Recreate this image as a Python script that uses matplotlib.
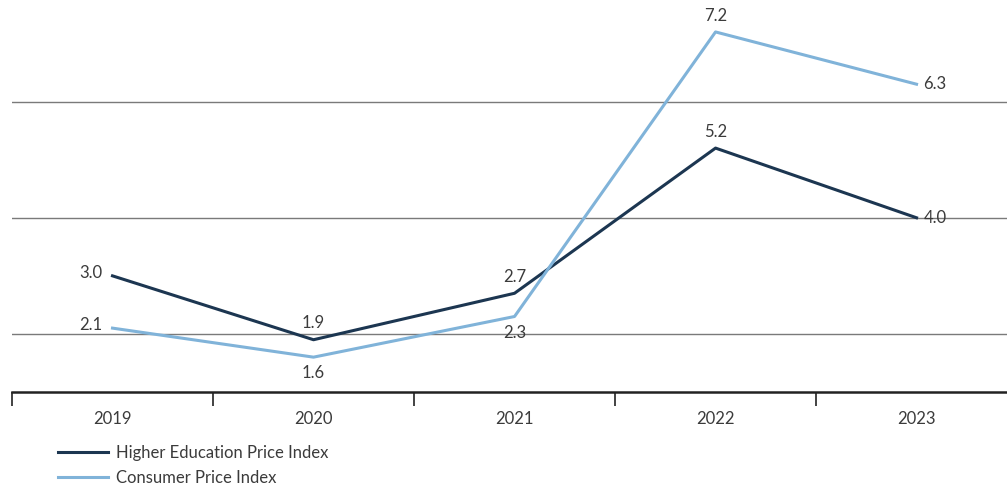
import numpy as np
import matplotlib.pyplot as plt

years = ["2019", "2020", "2021", "2022", "2023"]
hepi = [3.0, 1.9, 2.7, 5.2, 4.0]
cpi = [2.1, 1.6, 2.3, 7.2, 6.3]

# where each value label sits relative to its point
hepi_pos = ["left", "above", "above", "above", "right"]
cpi_pos = ["left", "below", "below", "above", "right"]

DARK = "#1c3651"
LIGHT = "#80b3d9"
TEXT = "#3b3b3b"

plt.rcParams['font.family'] = ['Lato', 'DejaVu Sans']

fig = plt.figure(figsize=(10.07, 4.87), dpi=100)
ax = fig.add_axes([12 / 1007, 95 / 487, 995 / 1007, 392 / 487])

x = np.arange(len(years))
ax.plot(x, hepi, color=DARK, lw=2.2, label="Higher Education Price Index", zorder=3)
ax.plot(x, cpi, color=LIGHT, lw=2.2, label="Consumer Price Index", zorder=3)

offsets = {
    "left": dict(xytext=(-7, 2), ha="right", va="center"),
    "right": dict(xytext=(5, 0), ha="left", va="center"),
    "above": dict(xytext=(0, 6), ha="center", va="bottom"),
    "below": dict(xytext=(0, -6), ha="center", va="top"),
}
for vals, pos in [(hepi, hepi_pos), (cpi, cpi_pos)]:
    for xi, v, p in zip(x, vals, pos):
        o = offsets[p]
        ax.annotate(f"{v:.1f}", (xi, v), xytext=o["xytext"], textcoords="offset points",
                    ha=o["ha"], va=o["va"], fontsize=12, color=TEXT, zorder=4)

ax.set_xlim(-0.5, 4.45)
ax.set_ylim(1.0, 7.75)
ax.set_yticks([2, 4, 6])
ax.yaxis.grid(True, color="#7a7a7a", lw=1.0)
ax.set_axisbelow(True)
ax.tick_params(axis="y", left=False, labelleft=False)

ax.set_xticks(x)
ax.set_xticklabels(years)
ax.set_xticks(np.arange(-0.5, 4, 1), minor=True)
ax.tick_params(axis="x", which="major", length=0, pad=14, labelsize=12, labelcolor=TEXT)
ax.tick_params(axis="x", which="minor", length=10, width=1.2, color="#222222", direction="out")

for s in ["top", "right", "left"]:
    ax.spines[s].set_visible(False)
ax.spines["bottom"].set_color("#222222")
ax.spines["bottom"].set_linewidth(1.8)

fig.legend(loc="upper left", bbox_to_anchor=(58 / 1007, 1 - 445 / 487), frameon=False,
           fontsize=12, labelcolor=TEXT, handlelength=3.0, handletextpad=0.45,
           labelspacing=0.55, borderpad=0, borderaxespad=0)

fig.savefig("out.png", dpi=100)
